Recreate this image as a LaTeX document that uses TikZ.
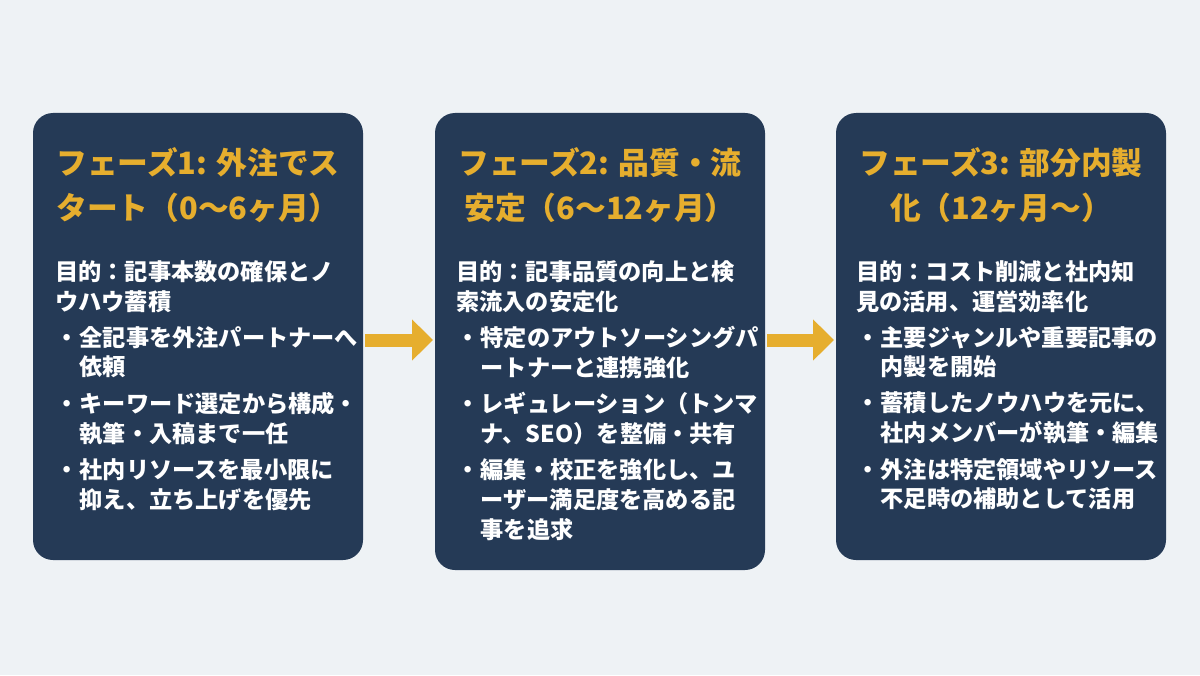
\documentclass[tikz,border=0pt]{standalone}
\usepackage{fontspec}
\setmainfont{Noto Sans CJK JP}
\usetikzlibrary{positioning,arrows.meta}
\definecolor{bgcol}{HTML}{EEF2F5}
\definecolor{boxcol}{HTML}{253A56}
\definecolor{goldcol}{HTML}{E6AE2E}
\newcommand{\pitem}[2]{\makebox[1.05em][c]{・}#1\\\hspace*{1.05em}#2}
\tikzset{
  phase/.style={fill=boxcol, rounded corners=0.4cm, draw=none},
  title/.style={anchor=north, text=goldcol, font=\fontsize{17.5pt}{25.5pt}\selectfont\bfseries, align=center, inner sep=0pt},
  body/.style={anchor=north west, text=white, font=\fontsize{13.2pt}{17pt}\selectfont\bfseries, align=left, inner sep=0pt},
  bul/.style={body, below=0.26cm of #1.south west, anchor=north west},
  phasearrow/.style={goldcol, line width=0.26cm, -{Triangle[length=0.42cm,width=0.8cm]}}
}
\begin{document}
\begin{tikzpicture}
\fill[bgcol] (0,0) rectangle (24,13.5);
% boxes
\fill[phase] (0.66,2.3) rectangle (7.26,11.24);
\fill[phase] (8.7,2.1) rectangle (15.3,11.24);
\fill[phase] (16.72,2.3) rectangle (23.32,11.24);
\coordinate (b1r) at (7.3,6.7);
\coordinate (b2l) at (8.66,6.7);
\coordinate (b2r) at (15.34,6.7);
\coordinate (b3l) at (16.68,6.7);
% phase 1
\node[title] (t1) at (3.96,10.55) {フェーズ1: 外注でス\\タート（0〜6ヶ月）};
\node[body] (p1) at (1.1,8.3) {目的：記事本数の確保とノ\\ウハウ蓄積};
\node[bul=p1] (a1) {\pitem{全記事を外注パートナーへ}{依頼}};
\node[bul=a1] (a2) {\pitem{キーワード選定から構成・}{執筆・入稿まで一任}};
\node[bul=a2] (a3) {\pitem{社内リソースを最小限に}{抑え、立ち上げを優先}};
% phase 2
\node[title] (t2) at (12.0,10.55) {フェーズ2: 品質・流\\安定（6〜12ヶ月）};
\node[body] (p2) at (9.12,8.3) {目的：記事品質の向上と検\\索流入の安定化};
\node[bul=p2] (c1) {\pitem{特定のアウトソーシングパ}{ートナーと連携強化}};
\node[bul=c1] (c2) {\pitem{レギュレーション（トンマ}{ナ、SEO）を整備・共有}};
\node[bul=c2] (c3) {\makebox[1.05em][c]{・}編集・校正を強化し、ユ\\\hspace*{1.05em}ーザー満足度を高める記\\\hspace*{1.05em}事を追求};
% phase 3
\node[title] (t3) at (20.02,10.55) {フェーズ3: 部分内製\\化（12ヶ月〜）};
\node[body] (p3) at (17.12,8.3) {目的：コスト削減と社内知\\見の活用、運営効率化};
\node[bul=p3] (d1) {\pitem{主要ジャンルや重要記事の}{内製を開始}};
\node[bul=d1] (d2) {\pitem{蓄積したノウハウを元に、}{社内メンバーが執筆・編集}};
\node[bul=d2] (d3) {\pitem{外注は特定領域やリソース}{不足時の補助として活用}};
% arrows
\draw[phasearrow] (b1r) -- (b2l);
\draw[phasearrow] (b2r) -- (b3l);
\end{tikzpicture}
\end{document}
